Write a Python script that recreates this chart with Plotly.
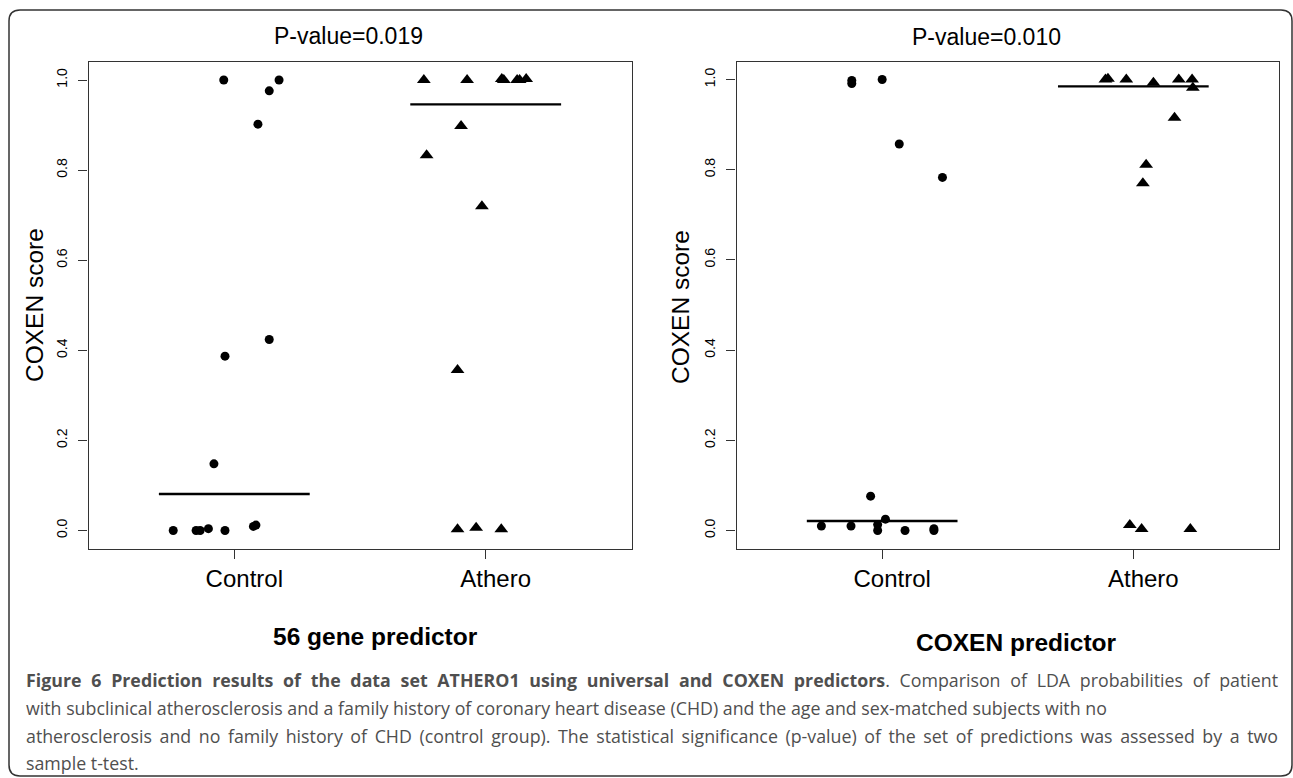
import plotly.graph_objects as go

W, H = 1293, 778

# ---------------- data ----------------
categories = ["Control", "Athero"]
cat_pos = [1, 2]

# 56 gene predictor panel
left_control_x = [0.958, 1.094, 1.139, 1.178, 1.139, 0.963, 0.919, 0.757, 0.848, 0.864, 0.897, 0.963, 1.076, 1.086]
left_control_y = [1.0, 0.902, 0.976, 1.0, 0.424, 0.387, 0.148, 0.0, 0.0, 0.0, 0.004, 0.0, 0.009, 0.012]
left_athero_x = [1.754, 1.926, 2.064, 2.072, 2.125, 2.135, 2.161, 1.902, 1.765, 1.985, 1.888, 1.888, 1.962, 2.062]
left_athero_y = [1.0, 1.0, 1.002, 1.0, 1.0, 1.0, 1.002, 0.898, 0.833, 0.72, 0.356, 0.003, 0.006, 0.003]
left_medians = [0.081, 0.946]

# COXEN predictor panel
right_control_x = [0.879, 0.879, 1.0, 1.068, 1.240, 0.954, 0.758, 0.876, 0.982, 0.982, 1.013, 1.091, 1.206, 1.206]
right_control_y = [0.998, 0.991, 1.0, 0.857, 0.783, 0.076, 0.010, 0.010, 0.013, 0.0, 0.025, 0.0, 0.004, 0.0]
right_athero_x = [1.889, 1.899, 1.972, 2.080, 2.181, 2.234, 2.237, 2.164, 2.051, 2.038, 1.986, 2.033, 2.227]
right_athero_y = [1.0, 1.002, 1.0, 0.993, 1.0, 1.0, 0.982, 0.915, 0.811, 0.770, 0.012, 0.003, 0.003]
right_medians = [0.021, 0.985]

y_ticks = [0.0, 0.2, 0.4, 0.6, 0.8, 1.0]
y_tick_labels = ["0.0", "0.2", "0.4", "0.6", "0.8", "1.0"]

titles = ["P-value=0.019", "P-value=0.010"]
bottom_labels = ["56 gene predictor", "COXEN predictor"]
y_title = "COXEN score"

caption_lines = [
    "<b>Figure 6 Prediction results of the data set ATHERO1 using universal and COXEN predictors</b>. Comparison of LDA probabilities of patient",
    "with subclinical atherosclerosis and a family history of coronary heart disease (CHD) and the age and sex-matched subjects with no",
    "atherosclerosis and no family history of CHD (control group). The statistical significance (p-value) of the set of predictions was assessed by a two",
    "sample t-test.",
]

# ---------------- helpers ----------------
def px(x):
    return x / W

def py(y):
    return 1 - y / H

RFONT = "Liberation Sans, Arial, Helvetica, sans-serif"
AX = "#333333"

fig = go.Figure()

panels = [
    dict(cx=left_control_x, cy=left_control_y, ax=left_athero_x, ay=left_athero_y, med=left_medians,
         xdom=(88.5, 631.5), ydom=(62, 548.5), xa="x", ya="y"),
    dict(cx=right_control_x, cy=right_control_y, ax=right_athero_x, ay=right_athero_y, med=right_medians,
         xdom=(736.5, 1279), ydom=(61.5, 548.5), xa="x2", ya="y2"),
]

for p in panels:
    fig.add_trace(go.Scatter(x=p["cx"], y=p["cy"], mode="markers", xaxis=p["xa"], yaxis=p["ya"],
                             marker=dict(symbol="circle", size=9, color="black", line=dict(width=0)),
                             showlegend=False, hoverinfo="skip"))
    fig.add_trace(go.Scatter(x=p["ax"], y=p["ay"], mode="markers", xaxis=p["xa"], yaxis=p["ya"],
                             marker=dict(symbol="triangle-up", size=12, color="black", line=dict(width=0)),
                             showlegend=False, hoverinfo="skip"))
    for c, m in zip(cat_pos, p["med"]):
        fig.add_trace(go.Scatter(x=[c - 0.3, c + 0.3], y=[m, m], mode="lines", xaxis=p["xa"], yaxis=p["ya"],
                                 line=dict(color="black", width=2.3), showlegend=False, hoverinfo="skip"))

def xaxis_cfg(dom, anchor):
    return dict(domain=[px(dom[0]), px(dom[1])], range=[0.42, 2.58], tickmode="array", anchor=anchor,
                tickvals=cat_pos, ticktext=categories, ticks="outside", ticklen=9, tickwidth=1,
                tickcolor=AX, showline=True, linecolor=AX, linewidth=1.3, mirror=True,
                showgrid=False, zeroline=False, tickfont=dict(family=RFONT, size=24, color="black"),
                ticklabelshift=10, fixedrange=True)

def yaxis_cfg(dom, anchor):
    return dict(domain=[py(dom[1]), py(dom[0])], range=[-0.04, 1.04], tickmode="array",
                tickvals=y_ticks, ticktext=y_tick_labels, ticks="outside", ticklen=9, tickwidth=1,
                tickcolor=AX, showline=True, linecolor=AX, linewidth=1.3, mirror=True,
                showgrid=False, zeroline=False, tickangle=-90, anchor=anchor,
                tickfont=dict(family=RFONT, size=14, color="black"), ticklabelstandoff=6,
                fixedrange=True)

fig.update_layout(
    width=W, height=H, margin=dict(l=0, r=0, t=0, b=0),
    paper_bgcolor="white", plot_bgcolor="white",
    xaxis=xaxis_cfg(panels[0]["xdom"], "y"), yaxis=yaxis_cfg(panels[0]["ydom"], "x"),
    xaxis2=xaxis_cfg(panels[1]["xdom"], "y2"), yaxis2=yaxis_cfg(panels[1]["ydom"], "x2"),
)

ann = []
# panel titles
for (x, y), t in zip([(348, 36), (986, 37)], titles):
    ann.append(dict(x=px(x), y=py(y), xref="paper", yref="paper", text=t, showarrow=False,
                    xanchor="center", yanchor="middle", font=dict(family=RFONT, size=23, color="black")))
# y axis titles
for x, y in [(34, 305), (681, 307)]:
    ann.append(dict(x=px(x), y=py(y), xref="paper", yref="paper", text=y_title, showarrow=False,
                    textangle=-90, xanchor="center", yanchor="middle",
                    font=dict(family=RFONT, size=24.5, color="black")))
# bottom labels
for (x, y), t in zip([(375, 636), (1016, 642)], bottom_labels):
    ann.append(dict(x=px(x), y=py(y), xref="paper", yref="paper", text="<b>" + t + "</b>", showarrow=False,
                    xanchor="center", yanchor="middle", font=dict(family=RFONT, size=24.5, color="black")))
# caption
for i, (line, y) in enumerate(zip(caption_lines, [680, 708, 736, 763])):
    ann.append(dict(x=px(24), y=py(y), xref="paper", yref="paper", text=line, showarrow=False,
                    xanchor="left", yanchor="middle", align="left",
                    font=dict(family="Open Sans, sans-serif", size=17.8, color="#4f4f4f")))
fig.update_layout(annotations=ann)

# rounded figure border
x0, x1, y0, y1, r = 9, 1292, 10, 776, 11
path = (f"M {px(x0)},{py(y1 - r)} L {px(x0)},{py(y0 + r)} Q {px(x0)},{py(y0)} {px(x0 + r)},{py(y0)} "
        f"L {px(x1 - r)},{py(y0)} Q {px(x1)},{py(y0)} {px(x1)},{py(y0 + r)} L {px(x1)},{py(y1 - r)} "
        f"Q {px(x1)},{py(y1)} {px(x1 - r)},{py(y1)} L {px(x0 + r)},{py(y1)} Q {px(x0)},{py(y1)} {px(x0)},{py(y1 - r)} Z")
fig.add_shape(type="path", path=path, xref="paper", yref="paper", line=dict(color="#333333", width=1.5),
              fillcolor="rgba(0,0,0,0)", layer="below")

# remove the page margin and justify the two full caption lines (as in the reference)
post = """
document.body.style.margin = '0';
document.body.style.overflow = 'hidden';
var target = 1252;
document.querySelectorAll('text.annotation-text').forEach(function(t){
  var s = t.textContent;
  if (s.indexOf('Figure 6') === 0 || s.indexOf('atherosclerosis and no') === 0) {
    var L = t.getComputedTextLength();
    var n = (s.match(/ /g) || []).length;
    if (n > 0 && L < target) {
      var anchor = t.getAttribute('text-anchor');
      var x = parseFloat(t.getAttribute('x')) || 0;
      if (anchor === 'middle') { t.setAttribute('x', x - L / 2); t.setAttribute('text-anchor', 'start'); }
      else if (anchor === 'end') { t.setAttribute('x', x - L); t.setAttribute('text-anchor', 'start'); }
      t.style.wordSpacing = ((target - L) / n) + 'px';
    }
  }
});
"""

fig.write_html("out.html", post_script=post, config={"displayModeBar": False})
